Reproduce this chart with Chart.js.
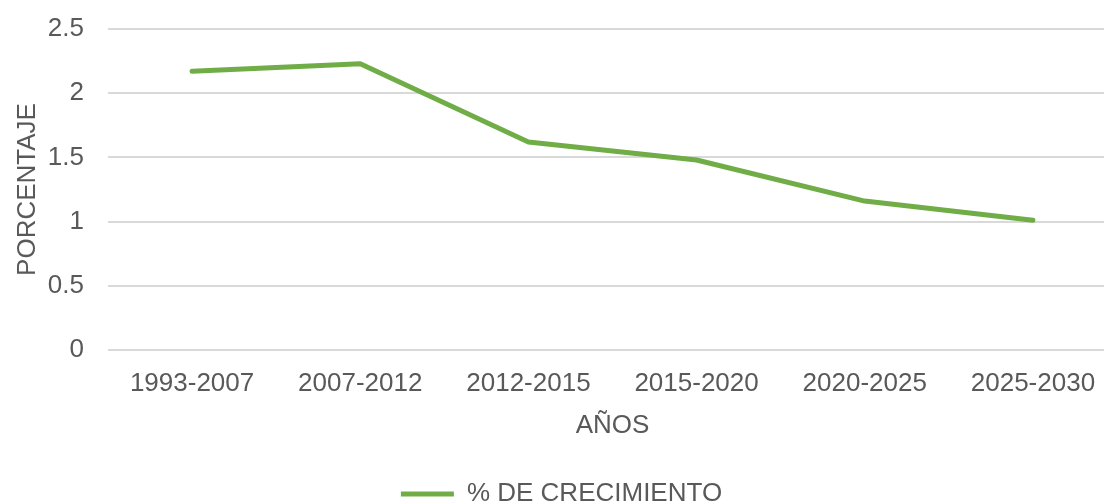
<!DOCTYPE html>
<html>
<head>
<meta charset="utf-8">
<script src="https://cdn.jsdelivr.net/npm/chart.js@4/dist/chart.umd.min.js"></script>
<style>
  html, body { margin: 0; padding: 0; background: #fff; overflow: hidden; }
  #wrap { position: relative; width: 1128px; height: 517px; }
</style>
</head>
<body>
<div id="wrap"><canvas id="c"></canvas></div>
<script>
const categories = ["1993-2007", "2007-2012", "2012-2015", "2015-2020", "2020-2025", "2025-2030"];
const growth = [2.17, 2.23, 1.62, 1.48, 1.16, 1.01];
const seriesName = "% DE CRECIMIENTO";
const yTitle = "PORCENTAJE";
const xTitle = "AÑOS";

const textColor = "#595959";
const font = { family: "'Liberation Sans', Arial, sans-serif", size: 26 };

new Chart(document.getElementById("c"), {
  type: "line",
  data: {
    labels: categories,
    datasets: [{
      label: seriesName,
      data: growth,
      borderColor: "#70AD47",
      backgroundColor: "#70AD47",
      borderWidth: 5,
      borderCapStyle: "round",
      borderJoinStyle: "round",
      pointRadius: 0,
      pointHoverRadius: 0,
      pointStyle: "line",
      tension: 0,
      fill: false
    }]
  },
  options: {
    responsive: true,
    maintainAspectRatio: false,
    animation: false,
    layout: { padding: { left: 6, right: 11, top: 29, bottom: 0 } },
    plugins: {
      tooltip: { enabled: false },
      legend: {
        position: "bottom",
        labels: {
          color: textColor,
          font: font,
          usePointStyle: true,
          pointStyle: "line",
          pointStyleWidth: 53,
          padding: 10
        }
      }
    },
    scales: {
      x: {
        offset: true,
        afterFit: (scale) => { scale.height = 121; },
        grid: { display: false, drawTicks: false },
        border: { display: false },
        ticks: { color: textColor, font: { family: font.family, size: 26, lineHeight: 1.0 }, padding: 21, maxRotation: 0 },
        title: { display: true, text: xTitle, color: textColor, font: font, padding: { top: 0, bottom: 30 } }
      },
      y: {
        min: 0,
        max: 2.5,
        afterFit: (scale) => { scale.width = 102; scale.paddingTop = 0; scale.paddingBottom = 0; },
        grid: { color: "#d9d9d9", lineWidth: 2, drawTicks: false },
        border: { display: false },
        ticks: { stepSize: 0.5, color: textColor, font: font, padding: 24, callback: (v) => v.toString() },
        title: { display: true, text: yTitle, color: textColor, font: font, padding: { top: 6.4, bottom: 4 } }
      }
    }
  }
});
</script>
</body>
</html>
